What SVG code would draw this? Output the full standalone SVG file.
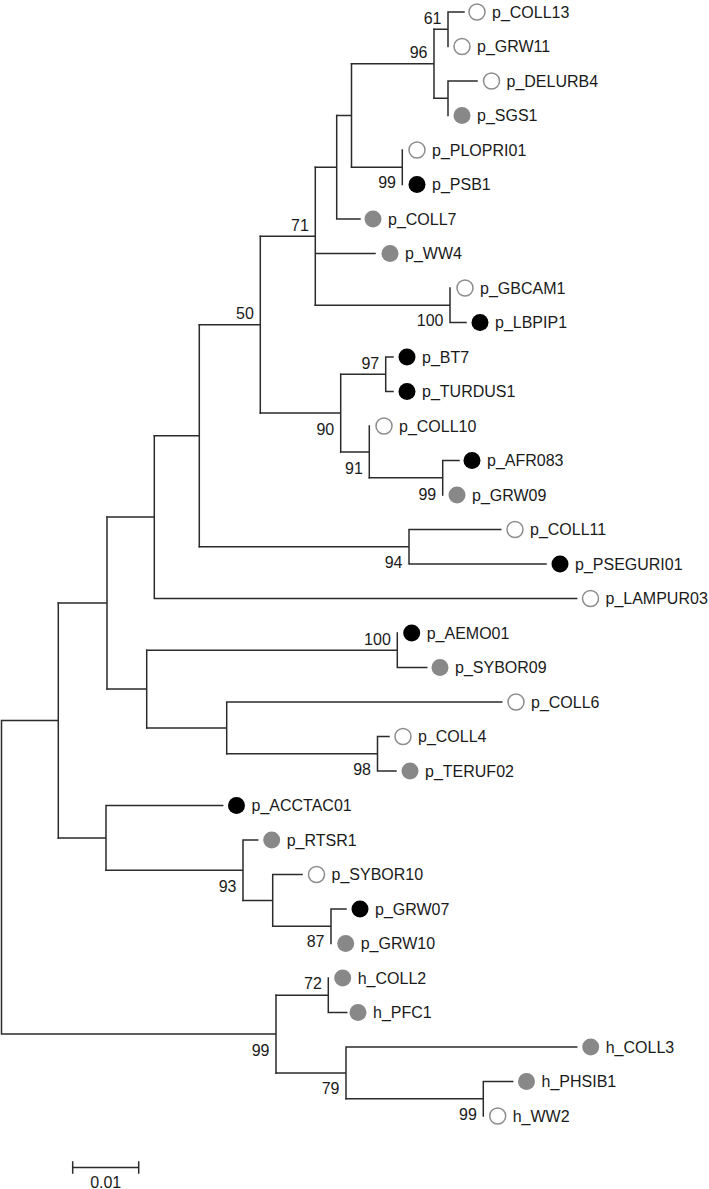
<svg xmlns="http://www.w3.org/2000/svg" width="709" height="1189" viewBox="0 0 709 1189">
<style>
.br{fill:none;stroke:#2b2b2b;stroke-width:1.5;stroke-linecap:square}
.t{font-family:"Liberation Sans",Arial,sans-serif;font-size:16px;fill:#1a1a1a}
.b{font-family:"Liberation Sans",Arial,sans-serif;font-size:16px;fill:#1a1a1a;text-anchor:end}
.o{fill:#ffffff;stroke:#8c8c8c;stroke-width:1.5}
.k{fill:#000000}
.g{fill:#888888}
</style>
<rect width="709" height="1189" fill="#ffffff"/>
<g id="connectors" class="br">
<path d="M1.5,720.5 V1034.1 M1.5,720.5 H58.3 M58.3,603.1 V837.9 M1.5,1034.1 H276 M276,995.3 V1072.9"/>
<path d="M58.3,603.1 H107 M107,517.1 V689.1"/>
<path d="M107,517.1 H154.3 M154.3,435.7 V598.5 M154.3,598.5 H576.7"/>
<path d="M154.3,435.7 H199.3 M199.3,324.7 V546.8"/>
<path d="M199.3,324.7 H260.3 M260.3,236.3 V413.1"/>
<path d="M199.3,546.8 H409 M409,529.5 V564 M409,529.5 H500.7 M409,564 H546"/>
<path d="M260.3,236.3 H315.3 M315.3,167.3 V305.3 M315.3,253.5 H375"/>
<path d="M315.3,167.3 H336.7 M336.7,115.5 V219 M336.7,219 H360"/>
<path d="M336.7,115.5 H351.5 M351.5,63.8 V167.3"/>
<path d="M351.5,63.8 H434 M434,29.3 V98.3"/>
<path d="M434,29.3 H448 M448,12 V46.5 M448,12 H464"/>
<path d="M434,98.3 H448 M448,81 V115.5 M448,81 H477"/>
<path d="M351.5,167.3 H402.3 M402.3,150 V184.5"/>
<path d="M315.3,305.3 H450 M450,288 V322.5 M450,322.5 H466"/>
<path d="M260.3,413.1 H340.7 M340.7,374.3 V451.9"/>
<path d="M340.7,374.3 H385.7 M385.7,357 V391.5 M385.7,357 H393 M385.7,391.5 H393"/>
<path d="M340.7,451.9 H369.3 M369.3,426 V477.8"/>
<path d="M369.3,477.8 H442.7 M442.7,460.5 V495 M442.7,460.5 H459"/>
<path d="M107,689.1 H146.7 M146.7,650.3 V727.9"/>
<path d="M146.7,650.3 H397.3 M397.3,633 V667.5 M397.3,667.5 H426.7"/>
<path d="M146.7,727.9 H226.7 M226.7,702 V753.8 M226.7,702 H501.7"/>
<path d="M226.7,753.8 H377.5 M377.5,736.5 V771 M377.5,736.5 H389 M377.5,771 H396"/>
<path d="M58.3,837.9 H106 M106,805.5 V870.2 M106,805.5 H222.7"/>
<path d="M106,870.2 H243 M243,840 V900.4 M243,840 H257.7"/>
<path d="M243,900.4 H272.7 M272.7,874.5 V926.3 M272.7,874.5 H302"/>
<path d="M272.7,926.3 H331 M331,909 V943.5 M331,909 H346"/>
<path d="M276,995.3 H328.3 M328.3,978 V1012.5 M328.3,1012.5 H346.7"/>
<path d="M276,1072.9 H346 M346,1047 V1098.8 M346,1047 H576.7"/>
<path d="M346,1098.8 H483.3 M483.3,1081.5 V1116 M483.3,1081.5 H512.7"/>
</g>
<g id="bootstrap">
<text class="b" x="441.5" y="23.8">61</text>
<text class="b" x="427.5" y="58.2">96</text>
<text class="b" x="396" y="188.3">99</text>
<text class="b" x="308.8" y="230.5">71</text>
<text class="b" x="253.8" y="318.8">50</text>
<text class="b" x="443.5" y="326.3">100</text>
<text class="b" x="379.2" y="368.8">97</text>
<text class="b" x="334.2" y="434.5">90</text>
<text class="b" x="362.8" y="473.5">91</text>
<text class="b" x="436.2" y="499.8">99</text>
<text class="b" x="402.5" y="568">94</text>
<text class="b" x="390.8" y="644.8">100</text>
<text class="b" x="371" y="775.3">98</text>
<text class="b" x="236.5" y="891.5">93</text>
<text class="b" x="324.5" y="947.3">87</text>
<text class="b" x="321.8" y="988.8">72</text>
<text class="b" x="269.5" y="1055.8">99</text>
<text class="b" x="339.5" y="1093.9">79</text>
<text class="b" x="476.8" y="1119.6">99</text>
</g>
<g id="n_COLL13"><circle class="o" cx="477" cy="12" r="8"/><text class="t" x="492" y="17.7">p_COLL13</text></g>
<g id="n_GRW11"><circle class="o" cx="462" cy="46.5" r="8"/><text class="t" x="477" y="52.2">p_GRW11</text></g>
<g id="n_DELURB4"><circle class="o" cx="491.5" cy="81" r="8"/><text class="t" x="506.5" y="86.7">p_DELURB4</text></g>
<g id="n_SGS1"><circle class="g" cx="462" cy="115.5" r="8.5"/><text class="t" x="477" y="121.2">p_SGS1</text></g>
<g id="n_PLOPRI01"><circle class="o" cx="417" cy="150" r="8"/><text class="t" x="432" y="155.7">p_PLOPRI01</text></g>
<g id="n_PSB1"><circle class="k" cx="417" cy="184.5" r="8.5"/><text class="t" x="432" y="190.2">p_PSB1</text></g>
<g id="n_COLL7"><circle class="g" cx="373" cy="219" r="8.5"/><text class="t" x="388" y="224.7">p_COLL7</text></g>
<g id="n_WW4"><circle class="g" cx="390" cy="253.5" r="8.5"/><text class="t" x="405" y="259.2">p_WW4</text></g>
<g id="n_GBCAM1"><circle class="o" cx="465" cy="288" r="8"/><text class="t" x="480" y="293.7">p_GBCAM1</text></g>
<g id="n_LBPIP1"><circle class="k" cx="480" cy="322.5" r="8.5"/><text class="t" x="495" y="328.2">p_LBPIP1</text></g>
<g id="n_BT7"><circle class="k" cx="407" cy="357" r="8.5"/><text class="t" x="422" y="362.7">p_BT7</text></g>
<g id="n_TURDUS1"><circle class="k" cx="407" cy="391.5" r="8.5"/><text class="t" x="422" y="397.2">p_TURDUS1</text></g>
<g id="n_COLL10"><circle class="o" cx="384" cy="426" r="8"/><text class="t" x="399" y="431.7">p_COLL10</text></g>
<g id="n_AFR083"><circle class="k" cx="472" cy="460.5" r="8.5"/><text class="t" x="487" y="466.2">p_AFR083</text></g>
<g id="n_GRW09"><circle class="g" cx="457" cy="495" r="8.5"/><text class="t" x="472" y="500.7">p_GRW09</text></g>
<g id="n_COLL11"><circle class="o" cx="515" cy="529.5" r="8"/><text class="t" x="530" y="535.2">p_COLL11</text></g>
<g id="n_PSEGURI01"><circle class="k" cx="560" cy="564" r="8.5"/><text class="t" x="575" y="569.7">p_PSEGURI01</text></g>
<g id="n_LAMPUR03"><circle class="o" cx="590.5" cy="598.5" r="8"/><text class="t" x="605.5" y="604.2">p_LAMPUR03</text></g>
<g id="n_AEMO01"><circle class="k" cx="411.7" cy="633" r="8.5"/><text class="t" x="426.7" y="638.7">p_AEMO01</text></g>
<g id="n_SYBOR09"><circle class="g" cx="440" cy="667.5" r="8.5"/><text class="t" x="455" y="673.2">p_SYBOR09</text></g>
<g id="n_COLL6"><circle class="o" cx="516" cy="702" r="8"/><text class="t" x="531" y="707.7">p_COLL6</text></g>
<g id="n_COLL4"><circle class="o" cx="403" cy="736.5" r="8"/><text class="t" x="418" y="742.2">p_COLL4</text></g>
<g id="n_TERUF02"><circle class="g" cx="410" cy="771" r="8.5"/><text class="t" x="425" y="776.7">p_TERUF02</text></g>
<g id="n_ACCTAC01"><circle class="k" cx="236.5" cy="805.5" r="8.5"/><text class="t" x="251.5" y="811.2">p_ACCTAC01</text></g>
<g id="n_RTSR1"><circle class="g" cx="271.7" cy="840" r="8.5"/><text class="t" x="286.7" y="845.7">p_RTSR1</text></g>
<g id="n_SYBOR10"><circle class="o" cx="316.5" cy="874.5" r="8"/><text class="t" x="331.5" y="880.2">p_SYBOR10</text></g>
<g id="n_GRW07"><circle class="k" cx="360" cy="909" r="8.5"/><text class="t" x="375" y="914.7">p_GRW07</text></g>
<g id="n_GRW10"><circle class="g" cx="345.7" cy="943.5" r="8.5"/><text class="t" x="360.7" y="949.2">p_GRW10</text></g>
<g id="n_hCOLL2"><circle class="g" cx="342.7" cy="978" r="8.5"/><text class="t" x="357.7" y="983.7">h_COLL2</text></g>
<g id="n_hPFC1"><circle class="g" cx="358" cy="1012.5" r="8.5"/><text class="t" x="373" y="1018.2">h_PFC1</text></g>
<g id="n_hCOLL3"><circle class="g" cx="590.7" cy="1047" r="8.5"/><text class="t" x="605.7" y="1052.7">h_COLL3</text></g>
<g id="n_hPHSIB1"><circle class="g" cx="526.5" cy="1081.5" r="8.5"/><text class="t" x="541.5" y="1087.2">h_PHSIB1</text></g>
<g id="n_hWW2"><circle class="o" cx="497.7" cy="1116" r="8"/><text class="t" x="512.7" y="1121.7">h_WW2</text></g>
<g id="scalebar">
<path class="br" d="M72.7,1167.5 H138.7 M72.7,1162 V1173 M138.7,1162 V1173"/>
<text class="t" x="105.7" y="1187.5" text-anchor="middle">0.01</text>
</g>
</svg>
